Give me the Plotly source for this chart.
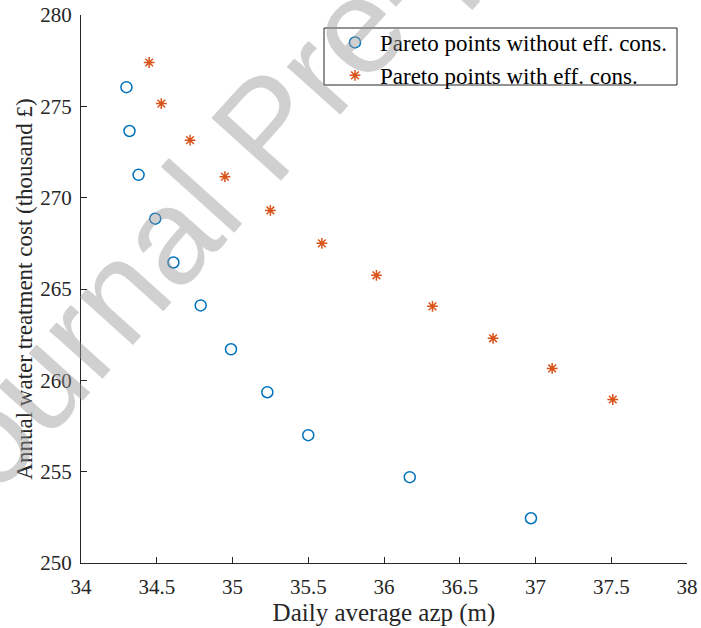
import plotly.graph_objects as go

# Pareto points without efficiency constraints
x_without = [34.30, 34.32, 34.38, 34.49, 34.61, 34.79, 34.99, 35.23, 35.50, 36.17, 36.97]
y_without = [276.05, 273.65, 271.25, 268.85, 266.45, 264.10, 261.70, 259.35, 257.00, 254.70, 252.45]

# Pareto points with efficiency constraints
x_with = [34.45, 34.53, 34.72, 34.95, 35.25, 35.59, 35.95, 36.32, 36.72, 37.11, 37.51]
y_with = [277.40, 275.15, 273.15, 271.15, 269.30, 267.50, 265.75, 264.05, 262.30, 260.65, 258.95]

x_ticks = [34, 34.5, 35, 35.5, 36, 36.5, 37, 37.5, 38]
y_ticks = [250, 255, 260, 265, 270, 275, 280]

SERIF = "Liberation Serif"
AX = "#262626"

fig = go.Figure()
fig.add_trace(go.Scatter(
    x=x_without, y=y_without, mode="markers",
    name="Pareto points without eff. cons.",
    marker=dict(symbol="circle-open", size=11, color="#0072BD",
                line=dict(color="#0072BD", width=1.5)),
))
fig.add_trace(go.Scatter(
    x=x_with, y=y_with, mode="markers",
    name="Pareto points with eff. cons.",
    marker=dict(symbol="asterisk-open", size=9, color="#D95319",
                line=dict(color="#D95319", width=1.5)),
))

fig.update_layout(
    width=701, height=628,
    margin=dict(l=81, r=14, t=15, b=65),
    paper_bgcolor="white", plot_bgcolor="white",
    font=dict(family=SERIF, size=21, color=AX),
    legend=dict(x=(330 - 81) / 606, y=(563 - 21) / 548, xanchor="left", yanchor="top",
                bgcolor="rgba(0,0,0,0)", borderwidth=0,
                font=dict(family=SERIF, size=23, color="black"),
                itemwidth=40, tracegroupgap=0),
    showlegend=True,
)

# legend frame
fig.add_shape(type="rect", xref="paper", yref="paper",
              x0=(324 - 81) / 606, x1=(677 - 81) / 606,
              y0=(563 - 85) / 548, y1=(563 - 28) / 548,
              fillcolor="white", line=dict(color="#262626", width=1), layer="above")

fig.update_xaxes(
    range=[34, 38], tickvals=x_ticks, ticktext=[f"{v:g}" for v in x_ticks],
    title=dict(text="Daily average azp (m)", font=dict(family=SERIF, size=25, color=AX), standoff=0),
    showgrid=False, zeroline=False, showline=True, linecolor=AX, linewidth=1,
    ticks="inside", ticklen=6, tickcolor=AX, tickwidth=1, automargin=False,
    tickfont=dict(family=SERIF, size=21, color=AX), ticklabelstandoff=5,
)
fig.update_yaxes(
    range=[250, 280], tickvals=y_ticks, ticktext=[str(v) for v in y_ticks],
    title=dict(text="Annual water treatment cost (thousand £)",
               font=dict(family=SERIF, size=23, color=AX), standoff=1),
    showgrid=False, zeroline=False, showline=True, linecolor=AX, linewidth=1,
    ticks="inside", ticklen=6, tickcolor=AX, tickwidth=1, automargin=False,
    tickfont=dict(family=SERIF, size=21, color=AX), ticklabelstandoff=4,
)

fig.add_annotation(
    text="Journal Pre-proof", xref="paper", yref="paper",
    x=(266 - 81) / 606, y=(563 - 127) / 548, xanchor="center", yanchor="middle",
    showarrow=False, textangle=-48,
    font=dict(family="Liberation Sans", size=136, color="rgba(150,150,150,0.45)"),
)

fig.write_html("out.html")
